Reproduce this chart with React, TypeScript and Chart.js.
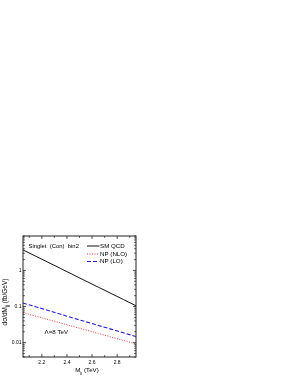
import React, { useEffect, useRef } from "react";
import { Chart, registerables } from "chart.js";

Chart.register(...registerables);

const massPoints = [2.05, 2.15, 2.25, 2.35, 2.45, 2.55, 2.65, 2.75, 2.85, 2.95];
const smQCD = [3.7, 2.49, 1.68, 1.13, 0.76, 0.51, 0.344, 0.232, 0.156, 0.105];
const npNLO = [0.068, 0.0545, 0.0437, 0.035, 0.028, 0.0224, 0.018, 0.0144, 0.0115, 0.0092];
const npLO = [0.125, 0.099, 0.078, 0.061, 0.048, 0.038, 0.03, 0.0237, 0.0187, 0.0148];
const xMajorTicks = [2.2, 2.4, 2.6, 2.8];
const xTickLabels = ["2.2", "2.4", "2.6", "2.8"];
const xMinorTicks = [2.1, 2.3, 2.5, 2.7, 2.9];
const yMajorTicks = [0.01, 0.1, 1];
const yTickLabels = ["0.01", "0.1", "1"];
const legendLabels = ["SM QCD", "NP (NLO)", "NP (LO)"];
const FONT = "'Liberation Sans', Arial, sans-serif";

function drawSubText(ctx: CanvasRenderingContext2D, parts: [string, boolean][], x: number, y: number, size: number) {
  let cx = x;
  for (const [t, sub] of parts) {
    ctx.font = `${sub ? size * 0.7 : size}px ${FONT}`;
    ctx.fillText(t, cx, sub ? y + size * 0.3 : y);
    cx += ctx.measureText(t).width;
  }
}
function measureParts(ctx: CanvasRenderingContext2D, parts: [string, boolean][], size: number) {
  let w = 0;
  for (const [t, sub] of parts) {
    ctx.font = `${sub ? size * 0.7 : size}px ${FONT}`;
    w += ctx.measureText(t).width;
  }
  return w;
}

const framePlugin = {
  id: "frameTicks",
  afterDraw(chart: any) {
    const { ctx, chartArea: a, scales } = chart;
    const xs = scales.x, ys = scales.y;
    ctx.save();
    ctx.strokeStyle = "#222";
    ctx.lineWidth = 1;
    ctx.strokeRect(a.left, a.top, a.right - a.left, a.bottom - a.top);
    ctx.lineWidth = 0.8;
    ctx.beginPath();
    const xt = (v: number, len: number) => {
      const p = xs.getPixelForValue(v);
      ctx.moveTo(p, a.bottom); ctx.lineTo(p, a.bottom - len);
      ctx.moveTo(p, a.top); ctx.lineTo(p, a.top + len);
    };
    xMajorTicks.forEach((v) => xt(v, 3));
    xMinorTicks.forEach((v) => xt(v, 1.8));
    const yt = (v: number, len: number) => {
      const p = ys.getPixelForValue(v);
      if (p < a.top - 0.5 || p > a.bottom + 0.5) return;
      ctx.moveTo(a.left, p); ctx.lineTo(a.left + len, p);
      ctx.moveTo(a.right, p); ctx.lineTo(a.right - len, p);
    };
    for (let e = -3; e <= 1; e++) {
      for (let m = 1; m <= 9; m++) {
        const v = m * Math.pow(10, e);
        yt(v, m === 1 ? 3 : 1.8);
      }
    }
    ctx.stroke();

    ctx.fillStyle = "#000";
    ctx.textBaseline = "middle";

    // tick labels
    ctx.font = `5px ${FONT}`;
    ctx.textAlign = "center";
    xMajorTicks.forEach((v, i) => ctx.fillText(xTickLabels[i], xs.getPixelForValue(v), a.bottom + 6));
    ctx.textAlign = "right";
    yMajorTicks.forEach((v, i) => ctx.fillText(yTickLabels[i], a.left - 1.5, ys.getPixelForValue(v)));

    // legend
    ctx.textAlign = "left";
    const ds = chart.data.datasets;
    const lx0 = a.left + 64, lx1 = a.left + 76.5, rows = [a.top + 10, a.top + 18, a.top + 25.5];
    ds.forEach((d: any, i: number) => {
      ctx.beginPath();
      ctx.strokeStyle = d.borderColor;
      ctx.lineWidth = d.borderWidth;
      ctx.setLineDash(d.borderDash || []);
      ctx.moveTo(lx0, rows[i]); ctx.lineTo(lx1, rows[i]);
      ctx.stroke();
      ctx.setLineDash([]);
      ctx.font = `6.2px ${FONT}`;
      ctx.fillText(legendLabels[i], lx1 + 0.5, rows[i]);
    });

    // annotations
    ctx.font = `5.9px ${FONT}`;
    ctx.fillText("Singlet  (Con)  bin2", a.left + 5.5, a.top + 10);
    ctx.font = `6.2px ${FONT}`;
    ctx.fillText("\u039B=8 TeV", a.left + 21.5, ys.getPixelForValue(0.0195));

    // x title
    const xParts: [string, boolean][] = [["M", false], ["jj", true], [" (TeV)", false]];
    const xw = measureParts(ctx, xParts, 6.2);
    drawSubText(ctx, xParts, 87 - xw / 2, 370.5, 6.2);

    // y title
    const yParts: [string, boolean][] = [["d\u03C3/dM", false], ["jj", true], [" (fb/GeV)", false]];
    const yw = measureParts(ctx, yParts, 6.5);
    ctx.translate(5.5, 302);
    ctx.rotate(-Math.PI / 2);
    drawSubText(ctx, yParts, -yw / 2, 0, 6.5);
    ctx.restore();
  },
};

export default function App() {
  const ref = useRef<HTMLCanvasElement>(null);
  useEffect(() => {
    if (!ref.current) return;
    const chart = new Chart(ref.current, {
      type: "line",
      data: {
        datasets: [
          {
            label: legendLabels[0],
            data: massPoints.map((x, i) => ({ x, y: smQCD[i] })),
            borderColor: "#111",
            borderWidth: 1,
            pointRadius: 0,
            fill: false,
          },
          {
            label: legendLabels[1],
            data: massPoints.map((x, i) => ({ x, y: npNLO[i] })),
            borderColor: "#ff3030",
            borderWidth: 1,
            borderDash: [1, 1.5],
            pointRadius: 0,
            fill: false,
          },
          {
            label: legendLabels[2],
            data: massPoints.map((x, i) => ({ x, y: npLO[i] })),
            borderColor: "#1a1aff",
            borderWidth: 1.1,
            borderDash: [4, 2],
            pointRadius: 0,
            fill: false,
          },
        ],
      },
      options: {
        responsive: false,
        animation: false,
        layout: { padding: { left: 0, top: 236, right: 155, bottom: 0 } },
        plugins: { legend: { display: false }, tooltip: { enabled: false }, title: { display: false } },
        scales: {
          x: {
            type: "linear",
            min: 2.05,
            max: 2.95,
            grid: { display: false, drawTicks: false },
            border: { display: false },
            afterFit: (s: any) => { s.height = 19; },
            ticks: { display: false },
          },
          y: {
            type: "logarithmic",
            min: 0.004,
            max: 9,
            grid: { display: false, drawTicks: false },
            border: { display: false },
            afterFit: (s: any) => { s.width = 23; },
            ticks: { display: false },
          },
        },
      },
      plugins: [framePlugin],
    });
    return () => chart.destroy();
  }, []);
  return (
    <div style={{ position: "absolute", left: 0, top: 0, width: 291, height: 376, background: "#fff" }}>
      <canvas ref={ref} width={291} height={376} style={{ display: "block" }} />
    </div>
  );
}
